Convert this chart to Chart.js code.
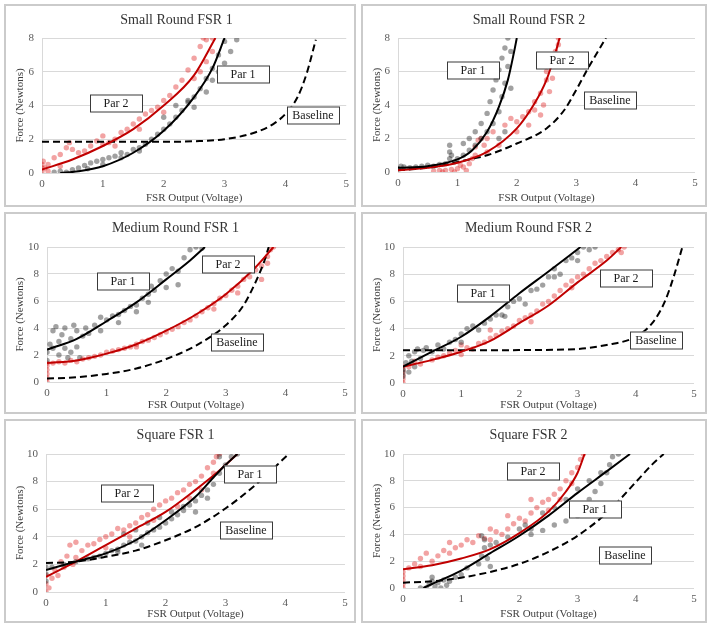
<!DOCTYPE html>
<html>
<head>
<meta charset="utf-8">
<script src="https://cdn.jsdelivr.net/npm/chart.js@4.4.0/dist/chart.umd.min.js"></script>
<style>
  body { margin: 0; background: #fff; width: 713px; height: 627px; position: relative; overflow: hidden; }
  .panel { position: absolute; border: 2px solid #cbcbcb; box-sizing: border-box; background: #fff; }
  .panel canvas { display: block; }
</style>
</head>
<body>
<div class="panel" style="left:4px;top:4px;width:352px;height:203px"><canvas id="c1" width="348" height="199"></canvas></div>
<div class="panel" style="left:361px;top:4px;width:346px;height:203px"><canvas id="c2" width="342" height="199"></canvas></div>
<div class="panel" style="left:4px;top:212px;width:352px;height:202px"><canvas id="c3" width="348" height="198"></canvas></div>
<div class="panel" style="left:361px;top:212px;width:346px;height:202px"><canvas id="c4" width="342" height="198"></canvas></div>
<div class="panel" style="left:4px;top:419px;width:352px;height:204px"><canvas id="c5" width="348" height="200"></canvas></div>
<div class="panel" style="left:361px;top:419px;width:346px;height:204px"><canvas id="c6" width="342" height="200"></canvas></div>
<script>
// axis ranges
var xMax = 5;
var xStep = 1;
var yStep = 2;

// Small Round FSR 1
var sr1Par1 = [[0.2,0.05],[0.3,0.1],[0.4,0.05],[0.5,0.2],[0.6,0.3],[0.7,0.45],[0.75,0.25],[0.8,0.6],[0.9,0.7],[1.0,0.8],[1.0,0.5],[1.1,0.9],[1.2,1.0],[1.3,1.2],[1.3,0.9],[1.4,1.1],[1.5,1.4],[1.6,1.5],[1.6,1.3],[1.7,1.7],[1.8,2.0],[1.9,2.3],[2.0,2.6],[2.0,3.3],[2.1,2.9],[2.2,3.3],[2.2,4.0],[2.3,3.7],[2.4,4.2],[2.4,4.3],[2.5,4.5],[2.5,3.9],[2.6,5.0],[2.7,5.6],[2.7,4.8],[2.8,6.2],[2.8,5.5],[2.9,7.0],[2.9,6.0],[3.0,7.8],[3.0,6.5],[3.1,7.2],[3.2,7.9]];
var sr1Par2 = [[0,0.1],[0,0.3],[0,0.5],[0.02,0.7],[0.05,0.3],[0.1,0.1],[0.1,0.5],[0.2,0.9],[0.3,0.4],[0.3,1.1],[0.4,1.5],[0.45,1.8],[0.5,1.4],[0.6,1.2],[0.7,1.3],[0.8,1.6],[0.9,1.9],[1.0,1.7],[1.0,2.2],[1.1,1.8],[1.2,2.0],[1.2,1.6],[1.3,2.4],[1.4,2.6],[1.5,2.9],[1.6,3.2],[1.6,2.6],[1.7,3.5],[1.8,3.7],[1.9,3.9],[2.0,4.3],[2.0,3.6],[2.1,4.6],[2.2,5.1],[2.3,5.5],[2.4,6.1],[2.5,6.8],[2.5,5.6],[2.6,7.5],[2.6,6.0],[2.65,8.0],[2.7,6.6],[2.7,7.9],[2.8,7.2],[2.8,8.0]];
var sr1Fit1 = [[0.3,0],[0.6,0.1],[1,0.4],[1.5,1.2],[2,2.5],[2.5,4.5],[2.8,6.2],[3.0,8]];
var sr1Fit2 = [[0,0.2],[0.5,0.8],[1,1.6],[1.5,2.6],[2,4],[2.5,5.8],[2.85,8]];
var sr1Base = [[0,1.85],[1,1.85],[2,1.85],[2.5,1.88],[3,2.0],[3.5,2.4],[3.8,2.9],[4,3.5],[4.2,4.5],[4.35,5.9],[4.5,7.9]];

// Small Round FSR 2
var sr2Par1 = [[0,0.2],[0.05,0.35],[0.1,0.3],[0.2,0.25],[0.3,0.3],[0.4,0.35],[0.5,0.4],[0.6,0.35],[0.7,0.45],[0.8,0.5],[0.87,0.8],[0.87,1.2],[0.87,1.6],[0.9,1.0],[0.95,0.6],[1.0,0.8],[1.1,1.0],[1.1,1.7],[1.2,1.3],[1.2,2.0],[1.3,1.6],[1.3,2.4],[1.4,2.0],[1.4,2.9],[1.5,2.4],[1.5,3.5],[1.55,4.2],[1.6,2.9],[1.6,4.9],[1.65,5.5],[1.7,3.6],[1.7,6.1],[1.75,6.8],[1.75,4.5],[1.8,7.4],[1.8,5.3],[1.85,6.3],[1.85,8.0],[1.9,7.2],[1.9,5.0],[1.8,2.4],[1.7,2.0]];
var sr2Par2 = [[0.6,0.05],[0.7,0.1],[0.75,0.0],[0.8,0.1],[0.9,0.15],[0.95,0.0],[1.0,0.2],[1.05,0.4],[1.1,0.3],[1.15,0.1],[1.2,0.5],[1.25,0.8],[1.3,1.0],[1.3,1.5],[1.35,1.9],[1.4,2.0],[1.45,1.6],[1.5,1.2],[1.5,2.0],[1.6,2.4],[1.7,1.6],[1.8,2.8],[1.9,3.2],[2.0,3.0],[2.0,2.4],[2.1,3.3],[2.2,3.6],[2.2,2.8],[2.3,4.2],[2.3,3.7],[2.4,4.7],[2.4,3.4],[2.45,4.0],[2.5,5.5],[2.5,6.0],[2.55,4.8],[2.6,6.4],[2.6,5.6],[2.65,7.2],[2.7,8.0],[2.7,7.6]];
var sr2Fit1 = [[0,0.25],[0.5,0.35],[1,0.75],[1.25,1.3],[1.5,2.4],[1.7,3.9],[1.85,5.5],[1.95,7.1],[2.0,8]];
var sr2Fit2 = [[0,0.1],[0.5,0.25],[1,0.55],[1.5,1.2],[2,2.6],[2.3,4.1],[2.5,5.5],[2.65,7.1],[2.72,8]];
var sr2Base = [[0,0.1],[0.6,0.3],[1.2,0.75],[1.5,1.0],[2,1.7],[2.5,2.6],[2.8,3.7],[3,4.9],[3.2,6.2],[3.5,8]];

// Medium Round FSR 1
var mr1Par1 = [[0,1.6],[0,2.2],[0.05,2.8],[0.1,3.8],[0.1,2.5],[0.15,4.1],[0.2,3.0],[0.2,2.0],[0.25,3.5],[0.3,4.0],[0.3,2.5],[0.35,1.8],[0.4,3.2],[0.4,2.2],[0.45,4.2],[0.5,2.6],[0.5,3.8],[0.55,1.8],[0.6,3.4],[0.65,4.0],[0.7,3.6],[0.8,4.2],[0.9,4.8],[0.9,3.8],[1.0,4.6],[1.1,4.9],[1.2,5.0],[1.2,4.4],[1.3,5.3],[1.4,5.6],[1.5,5.7],[1.5,5.2],[1.6,6.2],[1.7,6.5],[1.7,5.9],[1.75,7.1],[1.8,6.8],[1.9,7.5],[2.0,7.0],[2.0,8.0],[2.1,8.4],[2.2,8.2],[2.2,7.2],[2.3,9.2],[2.4,9.8],[2.5,10],[2.6,9.9]];
var mr1Par2 = [[0,0],[0,0.3],[0,0.6],[0,0.9],[0,1.2],[0,1.4],[0.1,1.4],[0.2,1.5],[0.3,1.4],[0.4,1.6],[0.5,1.5],[0.6,1.7],[0.7,1.8],[0.8,1.9],[0.9,2.0],[1.0,2.2],[1.1,2.3],[1.2,2.4],[1.3,2.5],[1.4,2.6],[1.5,2.8],[1.5,2.6],[1.6,3.0],[1.7,3.1],[1.8,3.3],[1.9,3.5],[2.0,3.7],[2.1,3.9],[2.2,4.1],[2.3,4.4],[2.4,4.6],[2.5,4.9],[2.6,5.2],[2.7,5.5],[2.8,5.8],[2.8,5.4],[2.9,6.2],[3.0,6.4],[3.1,6.8],[3.2,7.1],[3.2,6.6],[3.3,7.6],[3.4,7.8],[3.5,8.3],[3.6,8.6],[3.6,7.6],[3.7,9.3],[3.7,8.8],[3.75,9.8],[3.8,10]];
var mr1Fit1 = [[0,2.4],[0.5,3.2],[1,4.5],[1.5,5.9],[2,7.6],[2.4,9.0],[2.65,10]];
var mr1Fit2 = [[0,1.4],[0.5,1.6],[1,2.1],[1.5,2.8],[2,3.8],[2.5,5.0],[3,6.5],[3.5,8.5],[3.8,10]];
var mr1Base = [[0,0.25],[0.5,0.35],[1,0.6],[1.5,1.0],[2,1.7],[2.5,2.7],[3,4.2],[3.3,5.7],[3.5,7.4],[3.65,9],[3.72,10]];

// Medium Round FSR 2
var mr2Par1 = [[0,0.5],[0,0.8],[0,1.0],[0.05,1.5],[0.1,0.8],[0.1,2.0],[0.15,1.6],[0.2,2.3],[0.2,1.2],[0.25,2.5],[0.3,1.8],[0.35,2.4],[0.4,2.6],[0.5,2.3],[0.6,2.8],[0.7,2.5],[0.8,3.0],[0.9,3.2],[1.0,3.6],[1.0,3.0],[1.1,4.0],[1.2,4.2],[1.3,3.9],[1.4,4.4],[1.5,4.7],[1.6,5.0],[1.7,5.0],[1.75,4.9],[1.8,5.6],[1.9,6.0],[2.0,6.2],[2.1,5.8],[2.2,6.8],[2.3,6.9],[2.4,7.2],[2.5,7.8],[2.6,8.4],[2.6,7.8],[2.7,8.0],[2.8,9.0],[2.9,9.2],[3.0,9.6],[3.0,9.0],[3.1,10.0],[3.2,9.8],[3.3,10]];
var mr2Par2 = [[0,0],[0,0.3],[0,0.6],[0,0.9],[0,1.2],[0.1,1.2],[0.2,1.6],[0.3,1.4],[0.5,1.7],[0.6,1.9],[0.7,2.0],[0.8,2.2],[0.9,2.4],[1.0,2.1],[1.0,2.8],[1.1,2.6],[1.2,2.5],[1.3,2.9],[1.4,3.0],[1.5,3.3],[1.5,3.9],[1.6,3.5],[1.7,3.8],[1.8,4.0],[1.9,4.2],[2.0,4.6],[2.1,4.8],[2.2,5.0],[2.2,4.5],[2.3,5.3],[2.4,5.8],[2.5,6.0],[2.6,6.4],[2.7,6.8],[2.8,7.2],[2.9,7.5],[2.9,7.0],[3.0,7.8],[3.1,8.0],[3.2,8.4],[3.3,8.8],[3.4,9.0],[3.5,9.3],[3.6,9.6],[3.7,9.8],[3.75,9.6],[3.8,10]];
var mr2Fit1 = [[0,1.2],[0.5,2.3],[1,3.4],[1.5,4.9],[2,6.6],[2.5,8.2],[3.05,10]];
var mr2Fit2 = [[0,1.2],[0.5,1.7],[1,2.3],[1.5,3.1],[2,4.4],[2.5,5.7],[3,7.4],[3.5,9.0],[3.75,10]];
var mr2Base = [[0,2.4],[1,2.4],[2,2.42],[3,2.5],[3.5,2.8],[4,3.4],[4.3,4.5],[4.5,6],[4.65,7.8],[4.8,10]];

// Square FSR 1
var sq1Par1 = [[0,0.8],[0,1.3],[0,1.8],[0.1,1.8],[0.3,2.0],[0.5,2.2],[0.7,2.4],[0.8,2.5],[0.9,2.6],[1.0,2.8],[1.1,3.0],[1.2,3.1],[1.2,2.9],[1.3,3.4],[1.3,4.2],[1.4,3.6],[1.5,3.7],[1.5,4.5],[1.6,4.0],[1.6,3.4],[1.7,4.3],[1.7,5.0],[1.8,4.5],[1.9,4.7],[1.9,5.4],[2.0,5.0],[2.1,5.3],[2.1,5.8],[2.2,5.6],[2.3,5.9],[2.3,6.2],[2.4,6.3],[2.5,6.6],[2.5,5.8],[2.6,7.0],[2.7,7.4],[2.7,6.8],[2.8,7.8],[2.9,8.6],[2.9,9.8],[3.0,9.2],[3.1,9.8],[3.2,10]];
var sq1Par2 = [[0,0],[0,0.6],[0,1.2],[0.05,0.3],[0.1,1.0],[0.15,1.6],[0.2,1.2],[0.25,2.2],[0.3,1.8],[0.35,2.6],[0.4,3.4],[0.45,2.0],[0.5,2.5],[0.5,3.6],[0.6,3.0],[0.7,3.4],[0.8,3.5],[0.9,3.8],[1.0,4.0],[1.0,3.2],[1.1,4.2],[1.2,4.6],[1.3,4.5],[1.4,4.8],[1.4,4.0],[1.5,5.0],[1.6,5.4],[1.7,5.6],[1.8,6.0],[1.8,5.2],[1.9,6.3],[2.0,6.6],[2.1,6.8],[2.2,7.2],[2.2,6.2],[2.3,7.4],[2.4,7.8],[2.4,6.8],[2.5,8.0],[2.6,8.4],[2.6,7.4],[2.7,9.0],[2.8,9.4],[2.8,8.6],[2.85,9.8],[2.9,10]];
var sq1Fit1 = [[0,1.6],[0.5,2.2],[1,2.8],[1.5,3.75],[2,5.2],[2.5,6.9],[2.8,8.3],[3,9.2],[3.2,10]];
var sq1Fit2 = [[0,1.1],[0.5,2.2],[1,3.4],[1.5,4.6],[2,5.8],[2.5,7.4],[2.9,8.8],[3.2,10]];
var sq1Base = [[0,2.1],[0.5,2.2],[1,2.55],[1.5,3.0],[2,3.75],[2.5,4.7],[3,6.05],[3.5,7.75],[4.06,10]];

// Square FSR 2
var sq2Par1 = [[0.3,0.0],[0.4,0.0],[0.45,0.3],[0.5,0.5],[0.5,0.8],[0.55,0.1],[0.6,0.4],[0.65,0.0],[0.7,0.6],[0.75,0.2],[0.8,0.5],[0.9,0.8],[1.0,1.0],[1.1,1.5],[1.3,1.8],[1.35,2.4],[1.35,3.9],[1.4,3.0],[1.4,3.6],[1.45,2.2],[1.5,3.2],[1.5,1.6],[1.6,3.4],[1.8,3.8],[2.0,4.4],[2.1,4.7],[2.2,4.4],[2.2,4.0],[2.4,4.3],[2.4,5.6],[2.6,4.7],[2.6,6.0],[2.8,5.0],[2.8,6.6],[3.0,5.4],[3.0,7.4],[3.1,6.0],[3.2,6.6],[3.2,8.0],[3.3,7.2],[3.4,7.8],[3.4,8.6],[3.5,8.6],[3.55,9.2],[3.6,9.8],[3.7,10]];
var sq2Par2 = [[0,0],[0,0.3],[0,0.6],[0,0.9],[0,1.2],[0.1,1.5],[0.2,1.8],[0.3,2.2],[0.3,1.6],[0.4,2.6],[0.5,2.0],[0.6,2.4],[0.7,2.8],[0.8,2.6],[0.8,3.4],[0.9,3.0],[1.0,3.2],[1.1,3.6],[1.2,3.4],[1.3,3.9],[1.4,3.7],[1.5,3.6],[1.5,4.4],[1.6,4.2],[1.7,4.0],[1.8,4.4],[1.8,5.4],[1.9,4.8],[2.0,5.2],[2.1,5.0],[2.2,5.6],[2.2,6.6],[2.3,6.0],[2.4,6.4],[2.5,6.6],[2.5,5.8],[2.6,7.0],[2.7,7.4],[2.7,6.6],[2.8,8.0],[2.9,8.6],[2.9,7.8],[3.0,9.0],[3.05,9.6],[3.1,10]];
var sq2Fit1 = [[0.35,0],[0.5,0.3],[1,1.3],[1.5,2.6],[2,3.9],[2.5,5.4],[3,7.1],[3.5,8.7],[3.9,10]];
var sq2Fit2 = [[0,1.4],[0.5,1.7],[1,2.2],[1.5,2.9],[2,4.1],[2.5,5.7],[2.8,7.2],[3,8.6],[3.12,10]];
var sq2Base = [[0,0.4],[0.5,0.5],[1,0.77],[1.5,1.2],[2,1.8],[2.5,2.7],[3,3.9],[3.5,5.6],[4,7.9],[4.3,9.3],[4.48,10]];

var fontFam = '"Liberation Serif", "Times New Roman", serif';

function toXY(arr) {
  return arr.map(function (p) { return { x: p[0], y: p[1] }; });
}

// draws the little boxed labels (Par 1 / Par 2 / Baseline)
function labelPlugin(items) {
  return {
    id: 'parLabels',
    afterDatasetsDraw: function (chart) {
      var ctx = chart.ctx, xs = chart.scales.x, ys = chart.scales.y;
      ctx.save();
      ctx.font = '12px ' + fontFam;
      ctx.textAlign = 'center';
      ctx.textBaseline = 'middle';
      items.forEach(function (it) {
        var cx = Math.round(xs.getPixelForValue(it.x));
        var cy = Math.round(ys.getPixelForValue(it.y));
        var w = 52, h = 17;
        ctx.fillStyle = '#fff';
        ctx.fillRect(cx - w / 2, cy - h / 2, w, h);
        ctx.strokeStyle = '#3a3a3a';
        ctx.lineWidth = 1;
        ctx.strokeRect(cx - w / 2 + 0.5, cy - h / 2 + 0.5, w, h);
        ctx.fillStyle = '#1a1a1a';
        ctx.fillText(it.text, cx, cy + 1);
      });
      ctx.restore();
    }
  };
}

function makePanel(id, p) {
  var canvas = document.getElementById(id);
  var cw = canvas.width, chh = canvas.height;
  var tickFont = { family: fontFam, size: 11 };
  var lineDs = function (data, color, dash) {
    return {
      data: toXY(data), showLine: true, borderColor: color, borderWidth: 2,
      borderDash: dash || [], pointRadius: 0, fill: false,
      cubicInterpolationMode: 'monotone', order: 0
    };
  };
  var ptDs = function (data, color) {
    return {
      data: toXY(data), showLine: false, pointRadius: 2.7, pointBorderWidth: 0,
      backgroundColor: color, borderColor: color, order: 1
    };
  };
  new Chart(canvas, {
    type: 'scatter',
    data: {
      datasets: [
        lineDs(p.fit1, '#000000'),
        lineDs(p.fit2, '#c00000'),
        lineDs(p.base, '#000000', [7, 4]),
        ptDs(p.par1, 'rgba(30,30,30,0.42)'),
        ptDs(p.par2, 'rgba(225,35,35,0.42)')
      ]
    },
    options: {
      responsive: false,
      animation: false,
      layout: { padding: { left: 0, top: 0, bottom: 0, right: cw - p.plot[2] } },
      plugins: {
        legend: { display: false },
        tooltip: { enabled: false },
        title: {
          display: true, text: p.title, color: '#333',
          font: { family: fontFam, size: 14, weight: 'normal' },
          padding: { top: 5.6, bottom: p.plot[1] - 16.8 - 5.6 }
        }
      },
      scales: {
        x: {
          type: 'linear', min: 0, max: xMax,
          ticks: { stepSize: xStep, font: tickFont, color: '#595959', padding: 5 },
          grid: { display: false, drawTicks: false },
          border: { display: false },
          title: { display: true, text: 'FSR Output (Voltage)', color: '#404040', font: tickFont, padding: { top: 0, bottom: 0 } },
          afterFit: function (s) { s.height = chh - p.plot[3]; }
        },
        y: {
          type: 'linear', min: 0, max: p.yMax,
          ticks: { stepSize: yStep, font: tickFont, color: '#595959', padding: 8 },
          grid: { color: '#d9d9d9', lineWidth: 1, drawTicks: false },
          border: { display: true, color: '#d9d9d9' },
          title: { display: true, text: 'Force (Newtons)', color: '#404040', font: tickFont, padding: { top: 7.4, bottom: 0 } },
          afterFit: function (s) { s.width = p.plot[0]; }
        }
      }
    },
    plugins: [labelPlugin(p.labels)]
  });
}

makePanel('c1', {
  title: 'Small Round FSR 1', yMax: 8, plot: [36, 32, 341, 167],
  par1: sr1Par1, par2: sr1Par2, fit1: sr1Fit1, fit2: sr1Fit2, base: sr1Base,
  labels: [{ text: 'Par 2', x: 1.22, y: 4.15 }, { text: 'Par 1', x: 3.31, y: 5.87 }, { text: 'Baseline', x: 4.46, y: 3.44 }]
});
makePanel('c2', {
  title: 'Small Round FSR 2', yMax: 8, plot: [35, 32, 332, 166],
  par1: sr2Par1, par2: sr2Par2, fit1: sr2Fit1, fit2: sr2Fit2, base: sr2Base,
  labels: [{ text: 'Par 1', x: 1.27, y: 6.11 }, { text: 'Par 2', x: 2.76, y: 6.69 }, { text: 'Baseline', x: 3.57, y: 4.3 }]
});
makePanel('c3', {
  title: 'Medium Round FSR 1', yMax: 10, plot: [41, 33, 339, 168],
  par1: mr1Par1, par2: mr1Par2, fit1: mr1Fit1, fit2: mr1Fit2, base: mr1Base,
  labels: [{ text: 'Par 1', x: 1.28, y: 7.46 }, { text: 'Par 2', x: 3.03, y: 8.74 }, { text: 'Baseline', x: 3.19, y: 2.96 }]
});
makePanel('c4', {
  title: 'Medium Round FSR 2', yMax: 10, plot: [40, 33, 331, 169],
  par1: mr2Par1, par2: mr2Par2, fit1: mr2Fit1, fit2: mr2Fit2, base: mr2Base,
  labels: [{ text: 'Par 1', x: 1.38, y: 6.64 }, { text: 'Par 2', x: 3.84, y: 7.72 }, { text: 'Baseline', x: 4.34, y: 3.19 }]
});
makePanel('c5', {
  title: 'Square FSR 1', yMax: 10, plot: [40, 33, 339, 171],
  par1: sq1Par1, par2: sq1Par2, fit1: sq1Fit1, fit2: sq1Fit2, base: sq1Base,
  labels: [{ text: 'Par 2', x: 1.35, y: 7.19 }, { text: 'Par 1', x: 3.41, y: 8.55 }, { text: 'Baseline', x: 3.35, y: 4.46 }]
});
makePanel('c6', {
  title: 'Square FSR 2', yMax: 10, plot: [40, 33, 331, 167],
  par1: sq2Par1, par2: sq2Par2, fit1: sq2Fit1, fit2: sq2Fit2, base: sq2Base,
  labels: [{ text: 'Par 2', x: 2.23, y: 8.73 }, { text: 'Par 1', x: 3.30, y: 5.91 }, { text: 'Baseline', x: 3.81, y: 2.49 }]
});
</script>
</body>
</html>
